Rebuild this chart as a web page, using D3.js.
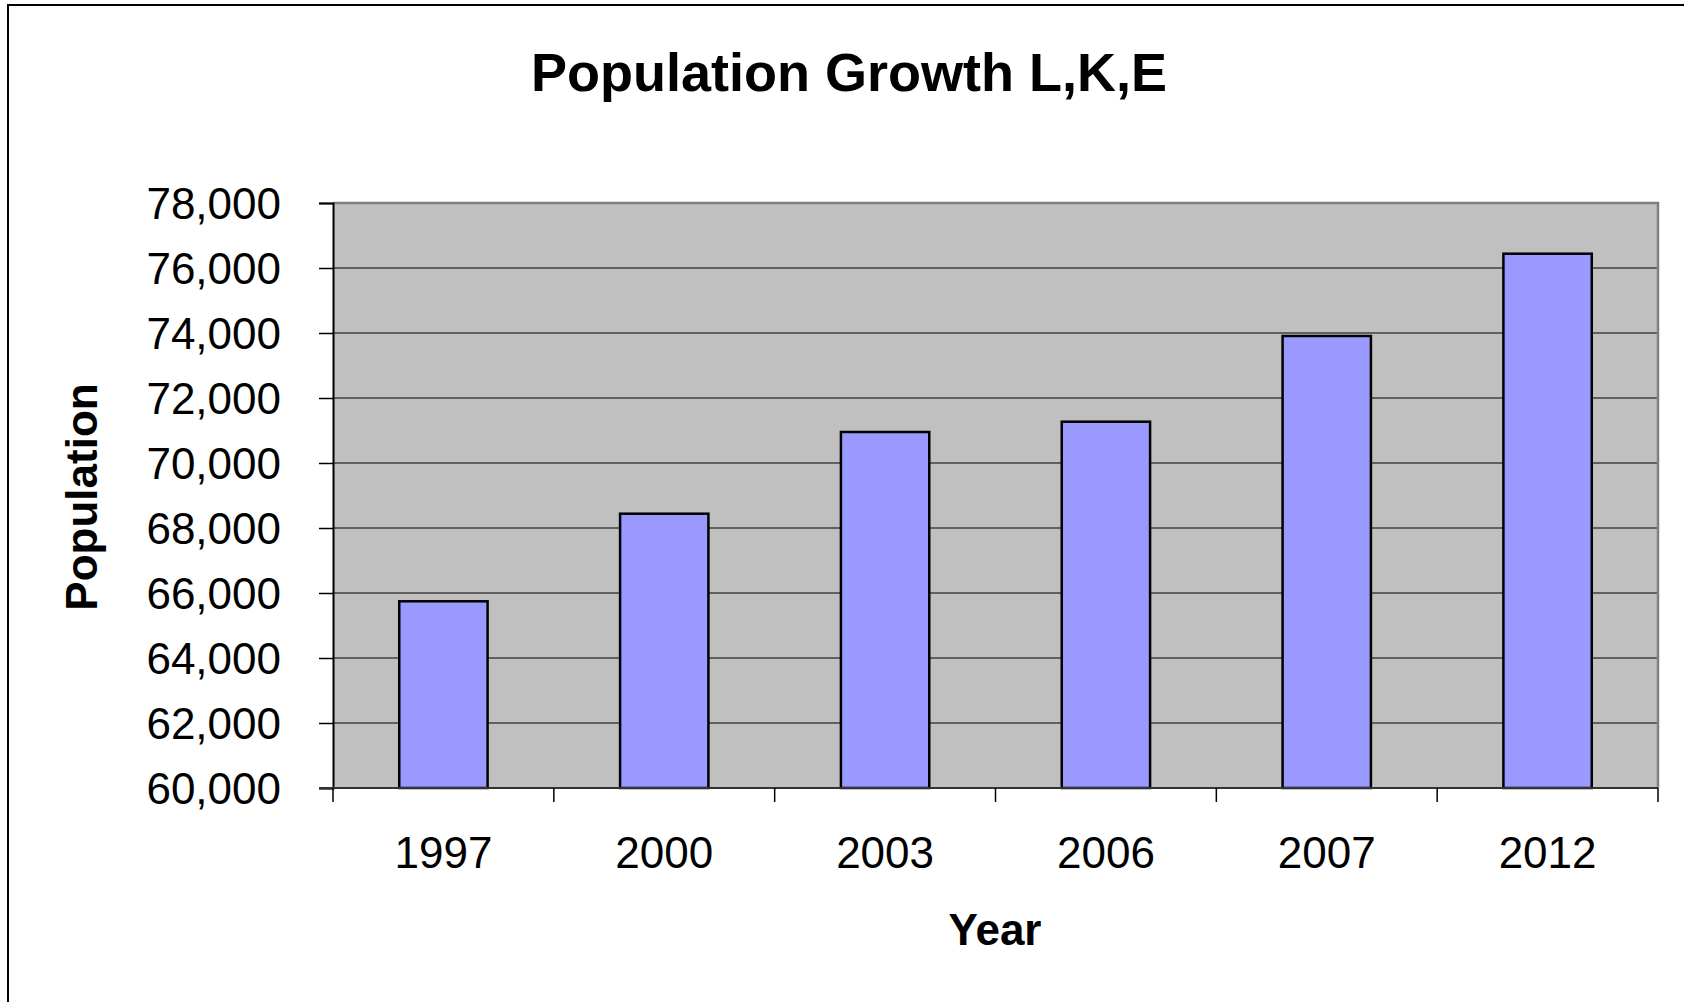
<!DOCTYPE html>
<html>
<head>
<meta charset="utf-8">
<script src="https://cdn.jsdelivr.net/npm/d3@7"></script>
<style>
  html, body { margin: 0; padding: 0; background: #fff; }
  svg { display: block; font-family: "Liberation Sans", Arial, sans-serif; }
</style>
</head>
<body>
<svg id="chart" width="1684" height="1002"></svg>
<script>
// Population by survey year
const years = ["1997", "2000", "2003", "2006", "2007", "2012"];
const population = [65745, 68440, 70954, 71271, 73908, 76440];
const yTicks = [60000, 62000, 64000, 66000, 68000, 70000, 72000, 74000, 76000, 78000];

const svg = d3.select("#chart");
const plot = { left: 333, right: 1658, top: 203, bottom: 788 };

// outer chart frame (runs off the right and bottom edges)
svg.append("rect")
  .attr("x", 8).attr("y", 5).attr("width", 2000).attr("height", 2000)
  .attr("fill", "#fff").attr("stroke", "#000").attr("stroke-width", 2);

const x = d3.scaleBand()
  .domain(years)
  .range([plot.left, plot.right])
  .paddingInner(0.6)
  .paddingOuter(0.3);

const y = d3.scaleLinear()
  .domain([yTicks[0], yTicks[yTicks.length - 1]])
  .range([plot.bottom, plot.top]);

// plot area background
svg.append("rect")
  .attr("x", plot.left).attr("y", plot.top)
  .attr("width", plot.right - plot.left).attr("height", plot.bottom - plot.top)
  .attr("fill", "#C0C0C0");

// horizontal gridlines
svg.append("g")
  .selectAll("line")
  .data(yTicks.slice(1, -1))
  .join("line")
  .attr("x1", plot.left).attr("x2", plot.right)
  .attr("y1", d => y(d)).attr("y2", d => y(d))
  .attr("stroke", "#000").attr("stroke-width", 1.2);

// plot area border (top and right in gray)
svg.append("path")
  .attr("d", `M${plot.left},${plot.top}H${plot.right}V${plot.bottom}`)
  .attr("fill", "none").attr("stroke", "#808080").attr("stroke-width", 2.5);

// bars
svg.append("g")
  .selectAll("rect")
  .data(years.map((yr, i) => ({ yr, v: population[i] })))
  .join("rect")
  .attr("x", d => x(d.yr))
  .attr("y", d => y(d.v))
  .attr("width", x.bandwidth())
  .attr("height", d => y(yTicks[0]) - y(d.v))
  .attr("fill", "#9999FF")
  .attr("stroke", "#000")
  .attr("stroke-width", 2.5);

// y axis
const yAxis = svg.append("g")
  .attr("transform", `translate(${plot.left},0)`)
  .call(d3.axisLeft(y).tickValues(yTicks).tickFormat(d3.format(",")).tickSize(14).tickPadding(38));
yAxis.select(".domain").attr("stroke", "#000").attr("stroke-width", 2);
yAxis.selectAll(".tick line").attr("stroke", "#000").attr("stroke-width", 1.5);
yAxis.selectAll(".tick text")
  .attr("font-family", "'Liberation Sans', Arial, sans-serif")
  .attr("font-size", 44).attr("fill", "#000").attr("dy", "0.36em");

// x axis line
svg.append("line")
  .attr("x1", plot.left - 14).attr("x2", plot.right)
  .attr("y1", plot.bottom).attr("y2", plot.bottom)
  .attr("stroke", "#333").attr("stroke-width", 2);

// x ticks at category boundaries
const step = x.step();
const x0 = plot.left;
svg.append("g")
  .selectAll("line")
  .data(d3.range(years.length + 1))
  .join("line")
  .attr("x1", i => x0 + i * (plot.right - plot.left) / years.length)
  .attr("x2", i => x0 + i * (plot.right - plot.left) / years.length)
  .attr("y1", plot.bottom).attr("y2", plot.bottom + 14)
  .attr("stroke", "#000").attr("stroke-width", 1.5);

// x labels
svg.append("g")
  .selectAll("text")
  .data(years)
  .join("text")
  .attr("x", d => x(d) + x.bandwidth() / 2)
  .attr("y", 868)
  .attr("text-anchor", "middle")
  .attr("font-size", 44)
  .attr("fill", "#000")
  .text(d => d);

// title
svg.append("text")
  .attr("x", 849).attr("y", 91)
  .attr("text-anchor", "middle")
  .attr("font-size", 54).attr("font-weight", "bold")
  .text("Population Growth L,K,E");

// axis titles
svg.append("text")
  .attr("x", 995).attr("y", 945)
  .attr("text-anchor", "middle")
  .attr("font-size", 44).attr("font-weight", "bold")
  .text("Year");

svg.append("text")
  .attr("transform", "translate(97,497) rotate(-90)")
  .attr("text-anchor", "middle")
  .attr("font-size", 44).attr("font-weight", "bold")
  .text("Population");
</script>
</body>
</html>
